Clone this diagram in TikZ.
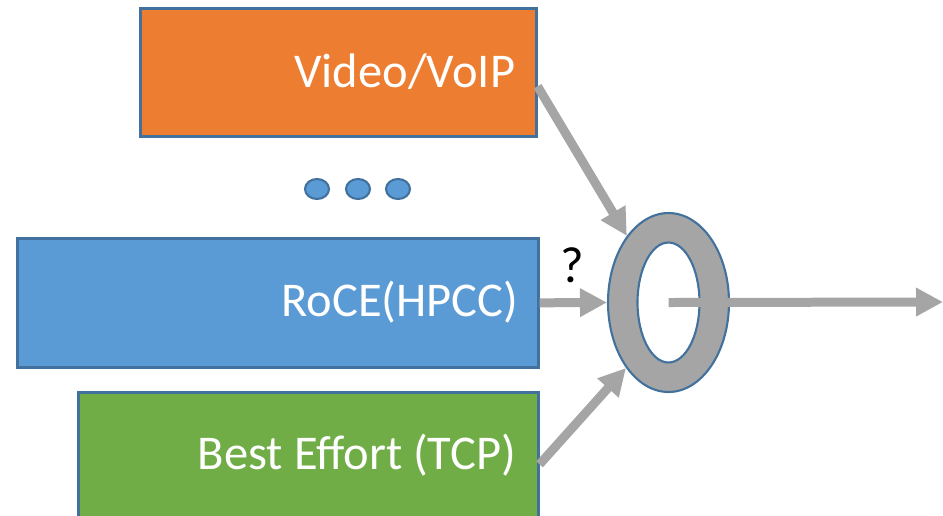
\documentclass[tikz,border=0pt]{standalone}
\usepackage{fontspec}
\setmainfont{Carlito}
\usepackage{tikz}
\usetikzlibrary{arrows.meta, shapes.geometric}
\definecolor{boxorange}{HTML}{ED7D31}
\definecolor{boxblue}{HTML}{5B9BD5}
\definecolor{boxgreen}{HTML}{70AD47}
\definecolor{edgeblue}{HTML}{41719C}
\definecolor{arrowgray}{HTML}{A5A5A5}

\begin{document}
\begin{tikzpicture}[
    x = 0.02cm, y = -0.02cm,
    qbox/.style = {draw = edgeblue, line width = 1.5pt, inner sep = 0, anchor = north west},
    qtxt/.style = {text = white, font = \fontsize{27.6}{33}\selectfont, inner sep = 0, anchor = base east},
    dot/.style = {ellipse, draw = edgeblue, fill = boxblue, line width = 1.2pt, minimum width = 0.48cm, minimum height = 0.4cm, inner sep = 0},
    flow/.style = {draw = arrowgray, line width = 0.18cm, -{Triangle[length = 0.54cm, width = 0.54cm]}}
]

\useasboundingbox (0,0) rectangle (943,515);
\clip (0,0) rectangle (943,515);

% queues
\node[qbox, fill = boxorange, minimum width = 7.92cm, minimum height = 2.56cm] (video) at (139,7) {};
\node[qbox, fill = boxblue, minimum width = 10.42cm, minimum height = 2.58cm] (roce) at (16,237) {};
\node[qbox, fill = boxgreen, minimum width = 9.2cm, minimum height = 2.88cm] (be) at (77,391) {};

\node[qtxt] (videotxt) at ([xshift = -0.44cm, yshift = -1.62cm]video.north east) {Video/VoIP};
\node[qtxt] (rocetxt) at ([xshift = -0.42cm, yshift = -1.6cm]roce.north east) {RoCE(HPCC)};
\node[qtxt] (betxt) at ([xshift = -0.46cm, yshift = -1.58cm]be.north east) {Best Effort (TCP)};

\foreach \i/\x in {1/317, 2/358, 3/398}
    \node[dot] (dot\i) at (\x,189) {};

% scheduler ring
\node[ellipse, draw = edgeblue, fill = arrowgray, line width = 1.2pt, minimum width = 2.42cm, minimum height = 3.58cm, inner sep = 0] (sched) at (668.5,302.5) {};
\node[ellipse, draw = edgeblue, fill = white, line width = 1.2pt, minimum width = 1.24cm, minimum height = 2.4cm, inner sep = 0] (hole) at (sched) {};

\coordinate (out) at (943,302);

\draw[flow] ([yshift = -0.28cm]video.east) -- (sched.122);
\draw[flow] (roce.east) -- (sched.west);
\draw[flow] (be.east) -- (sched.237);
\draw[flow] (sched.center) -- (out);

\node[font = \fontsize{29}{34}\selectfont, inner sep = 0, anchor = base] (q) at (572,282) {?};

\end{tikzpicture}
\end{document}
